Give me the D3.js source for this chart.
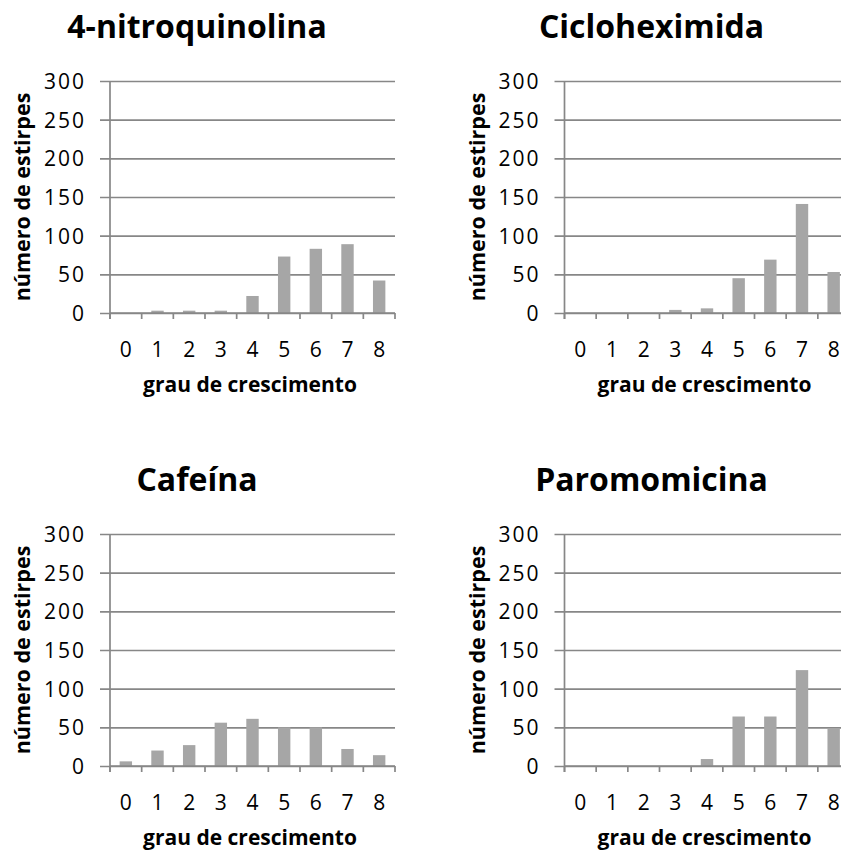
<!DOCTYPE html>
<html>
<head>
<meta charset="utf-8">
<script src="https://cdn.jsdelivr.net/npm/d3@7"></script>
<style>
  html, body { margin: 0; padding: 0; background: #fff; }
  svg { display: block; }
  text { font-family: "Open Sans", Lato, sans-serif; fill: #000; }
</style>
</head>
<body>
<svg id="chart" width="841" height="854"></svg>
<script>
// Growth-grade histograms, one panel per compound
const categories = ["0", "1", "2", "3", "4", "5", "6", "7", "8"];
const titles = ["4-nitroquinolina", "Cicloheximida", "Cafeína", "Paromomicina"];
const nitroquinolina = [0, 3, 3, 3, 22, 73, 83, 89, 42];
const cicloheximida = [0, 0, 0, 4, 6, 45, 69, 141, 53];
const cafeina = [6, 20, 27, 56, 61, 50, 50, 22, 14];
const paromomicina = [0, 0, 0, 0, 9, 64, 64, 124, 48];
const yTicks = [0, 50, 100, 150, 200, 250, 300];
const xTitle = "grau de crescimento";
const yTitle = "número de estirpes";

const seriesList = [nitroquinolina, cicloheximida, cafeina, paromomicina];

const svg = d3.select("#chart");
const plotW = 285, plotH = 232;
const gridColor = "#878787";
const barColor = "#a6a6a6";
const tickFont = "Lato, sans-serif";

// panel origins: left edge of plot area, top (300) line
const origins = [
  { x: 110, y: 81 }, { x: 564.5, y: 81 },
  { x: 110, y: 534 }, { x: 564.5, y: 534 }
];

seriesList.forEach((values, i) => {
  const o = origins[i];
  const g = svg.append("g").attr("transform", `translate(${o.x},${o.y})`);

  const xb = d3.scaleBand().domain(categories).range([0, plotW]);
  const y = d3.scaleLinear().domain([0, 300]).range([plotH, 0]);

  // horizontal gridlines with outward tick stubs
  const yAxis = g.append("g").call(
    d3.axisLeft(y).tickValues(yTicks).tickSizeInner(-plotW).tickSizeOuter(0).tickPadding(24)
  );
  yAxis.select(".domain").remove();
  yAxis.selectAll(".tick line")
    .attr("x1", -10).attr("x2", plotW)
    .attr("stroke", gridColor).attr("stroke-width", 1.7);
  yAxis.selectAll(".tick text")
    .attr("font-size", 21).attr("letter-spacing", "2px")
    .attr("font-family", tickFont)
    .attr("dy", "0.36em")
    .attr("fill", "#000");

  // bars
  g.append("g").selectAll("rect")
    .data(values)
    .join("rect")
    .attr("x", (d, k) => xb(categories[k]) + xb.bandwidth() / 2 - 6.2)
    .attr("width", 12.4)
    .attr("y", d => y(d))
    .attr("height", d => plotH - y(d))
    .attr("fill", barColor);

  // vertical axis line
  g.append("line")
    .attr("x1", 0).attr("x2", 0).attr("y1", 0).attr("y2", plotH + 6)
    .attr("stroke", gridColor).attr("stroke-width", 1.7);

  // category axis with ticks between bands
  const xAxis = g.append("g").attr("transform", `translate(0,${plotH})`)
    .call(d3.axisBottom(xb).tickSize(0).tickPadding(0));
  xAxis.select(".domain")
    .attr("d", `M0,0H${plotW}`)
    .attr("stroke", gridColor).attr("stroke-width", 1.7);
  xAxis.selectAll(".tick text")
    .attr("font-size", 21)
    .attr("font-family", tickFont)
    .attr("y", 43.5).attr("dy", 0)
    .attr("fill", "#000");
  g.append("g").attr("transform", `translate(0,${plotH})`)
    .selectAll("line")
    .data(d3.range(categories.length + 1))
    .join("line")
    .attr("x1", k => k * xb.step()).attr("x2", k => k * xb.step())
    .attr("y1", 0).attr("y2", 6)
    .attr("stroke", gridColor).attr("stroke-width", 1.7);

  // chart title
  g.append("text")
    .attr("x", 87).attr("y", -43)
    .attr("text-anchor", "middle")
    .attr("font-weight", "bold").attr("font-size", 32)
    .text(titles[i]);

  // axis titles
  g.append("text")
    .attr("x", 140).attr("y", plotH + 79)
    .attr("text-anchor", "middle")
    .attr("font-weight", "bold").attr("font-size", 21)
    .text(xTitle);

  g.append("text")
    .attr("transform", `translate(-80,${plotH / 2}) rotate(-90)`)
    .attr("text-anchor", "middle")
    .attr("font-weight", "bold").attr("font-size", 21.5)
    .text(yTitle);
});
</script>
</body>
</html>
